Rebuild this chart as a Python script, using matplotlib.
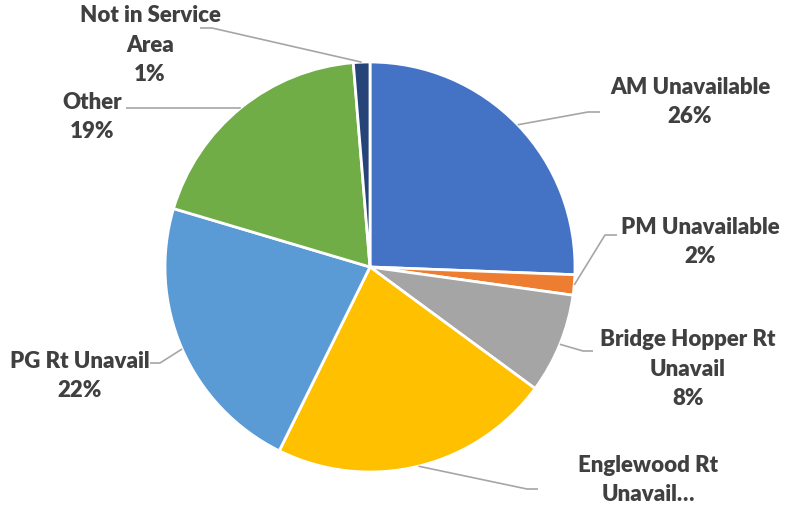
import matplotlib
matplotlib.use("Agg")
import matplotlib.pyplot as plt
import numpy as np

categories = ["AM Unavailable", "PM Unavailable", "Bridge Hopper Rt Unavail",
              "Englewood Rt Unavail", "PG Rt Unavail", "Other", "Not in Service Area"]
values = [25.6, 1.6, 7.9, 22.2, 22.3, 19.1, 1.3]
label_texts = ["AM Unavailable\n26%", "PM Unavailable\n2%", "Bridge Hopper Rt\nUnavail\n8%",
               "Englewood Rt\nUnavail…", "PG Rt Unavail\n22%", "Other\n19%",
               "Not in Service\nArea\n1%"]
colors = ["#4472C4", "#ED7D31", "#A5A5A5", "#FFC000", "#5B9BD5", "#70AD47", "#264478"]

W, H = 785, 515
fig = plt.figure(figsize=(W / 100, H / 100), dpi=100)
ax = fig.add_axes([0, 0, 1, 1])

cx, cy, R = 370, H - 267, 205
wedges, _ = ax.pie(values, colors=colors, startangle=90, counterclock=False,
                   center=(cx, cy), radius=R, frame=True,
                   wedgeprops=dict(edgecolor="white", linewidth=2))
ax.set_xlim(0, W)
ax.set_ylim(0, H)
ax.set_aspect("equal")
ax.axis("off")

# label layout (pixel coords from top-left): text center, elbow, end of leader
label_pos = [(690, 102), (700, 242), (688, 369), (648, 480), (80, 376), (92, 117), (150, 45)]
elbows = [(588, 112), (605, 235), (583, 351), (527, 489), (160, 363), (239, 108), (212, 28)]
ends = [(600, 112), (617, 235), (593, 351), (538, 489), (150, 363), (126, 108), (200, 28)]

for w, txt, lp, el, en in zip(wedges, label_texts, label_pos, elbows, ends):
    mid = np.deg2rad((w.theta1 + w.theta2) / 2)
    sx, sy = cx + R * np.cos(mid), cy + R * np.sin(mid)
    ax.plot([sx, el[0], en[0]], [sy, H - el[1], H - en[1]], color="#A6A6A6",
            lw=1.2, solid_capstyle="butt", zorder=1)
    ax.text(lp[0], H - lp[1], txt, ha="center", va="center", multialignment="center",
            fontsize=16, fontweight="heavy", family=["Lato", "DejaVu Sans"],
            color="#404040", linespacing=1.5)

fig.savefig("out.png", dpi=100, facecolor="white")
